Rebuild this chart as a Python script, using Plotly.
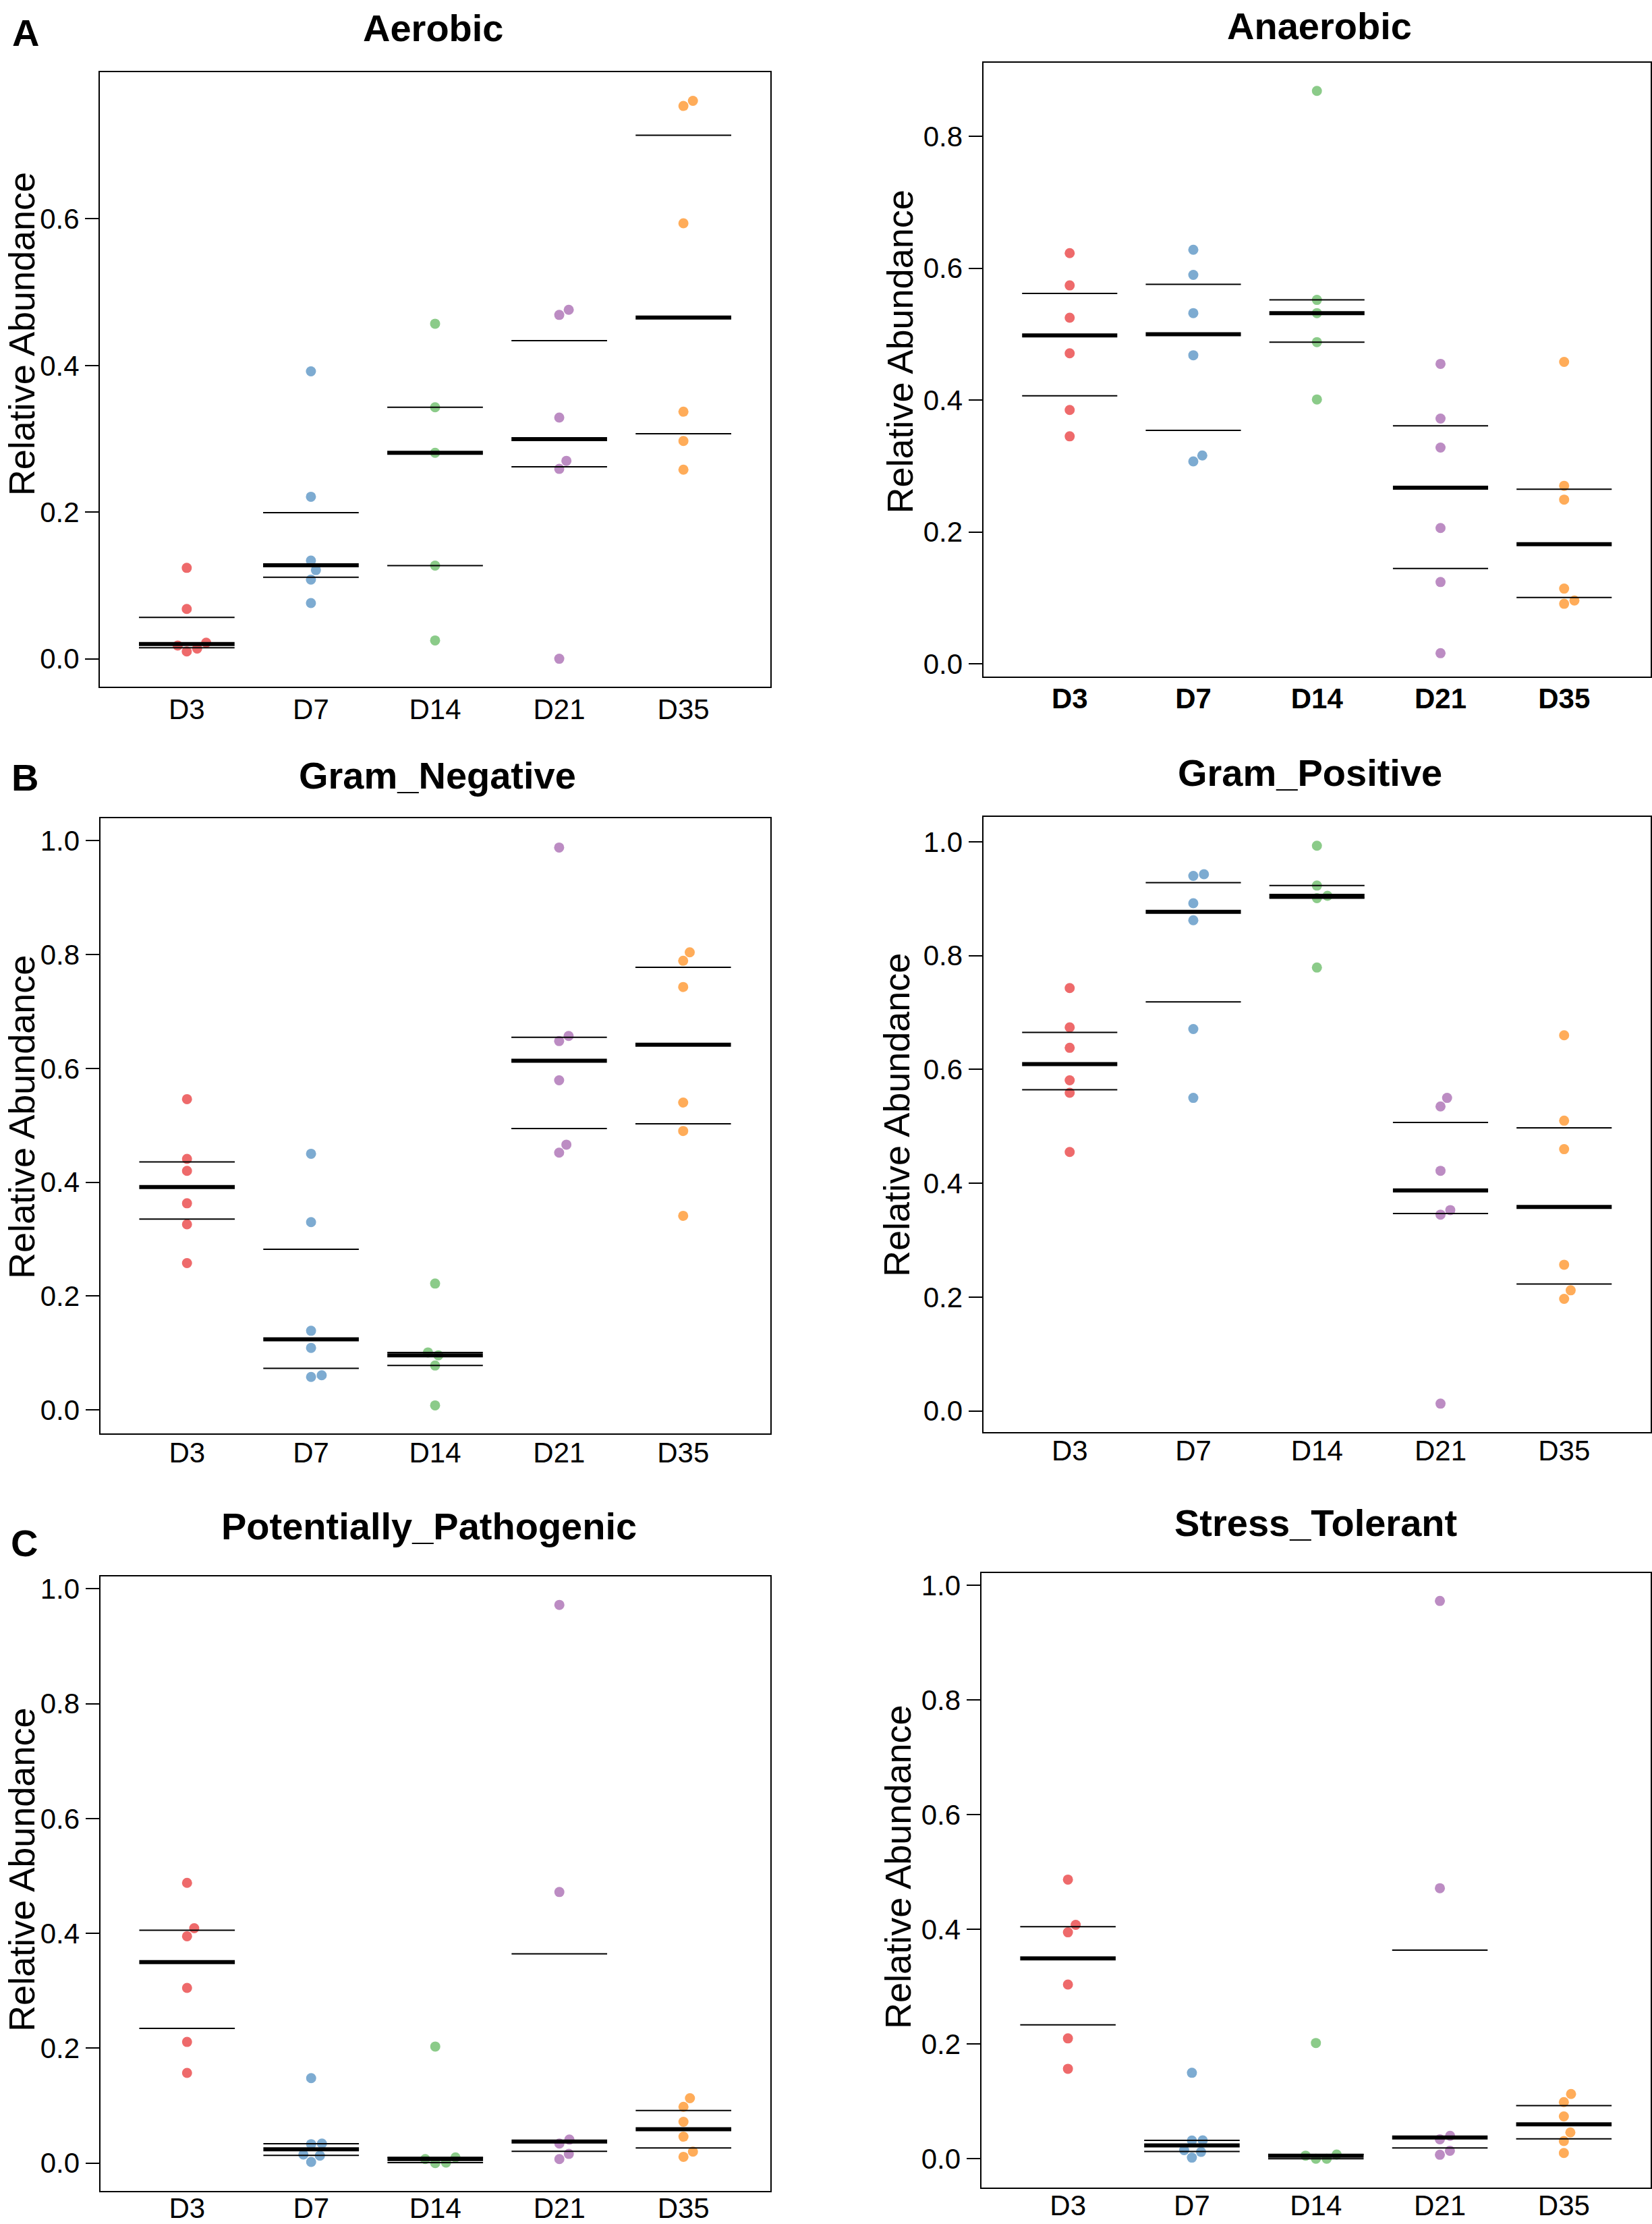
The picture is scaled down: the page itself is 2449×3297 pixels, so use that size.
import numpy as np
import plotly.graph_objects as go

# ---------------- data ----------------
categories = ["D3", "D7", "D14", "D21", "D35"]
group_colors = ["rgb(238,106,107)", "rgb(125,171,209)", "rgb(139,203,137)",
                "rgb(188,140,195)", "rgb(255,172,89)"]

aerobic = [
    [0.124, 0.068, 0.022, 0.018, 0.010, 0.014],
    [0.392, 0.221, 0.134, 0.121, 0.108, 0.076],
    [0.457, 0.343, 0.281, 0.127, 0.025],
    [0.476, 0.469, 0.329, 0.270, 0.259, 0.000],
    [0.761, 0.754, 0.594, 0.337, 0.297, 0.258],
]
anaerobic = [
    [0.623, 0.574, 0.525, 0.471, 0.385, 0.345],
    [0.628, 0.590, 0.532, 0.468, 0.316, 0.307],
    [0.869, 0.552, 0.532, 0.488, 0.401],
    [0.455, 0.372, 0.328, 0.206, 0.124, 0.016],
    [0.458, 0.270, 0.249, 0.114, 0.096, 0.091],
]
gram_negative = [
    [0.546, 0.441, 0.420, 0.363, 0.326, 0.258],
    [0.450, 0.330, 0.139, 0.109, 0.061, 0.058],
    [0.222, 0.101, 0.096, 0.078, 0.008],
    [0.988, 0.657, 0.648, 0.579, 0.466, 0.452],
    [0.804, 0.789, 0.743, 0.540, 0.490, 0.341],
]
gram_positive = [
    [0.743, 0.674, 0.638, 0.581, 0.559, 0.455],
    [0.943, 0.940, 0.892, 0.862, 0.671, 0.550],
    [0.993, 0.923, 0.905, 0.901, 0.779],
    [0.550, 0.535, 0.422, 0.353, 0.345, 0.013],
    [0.660, 0.510, 0.460, 0.257, 0.212, 0.197],
]
potentially_pathogenic = [
    [0.488, 0.409, 0.395, 0.305, 0.211, 0.157],
    [0.148, 0.034, 0.033, 0.015, 0.013, 0.002],
    [0.203, 0.010, 0.007, 0.001, 0.000],
    [0.972, 0.472, 0.041, 0.034, 0.016, 0.007],
    [0.113, 0.098, 0.072, 0.046, 0.020, 0.011],
]
stress_tolerant = [
    [0.487, 0.408, 0.395, 0.304, 0.210, 0.157],
    [0.150, 0.0322, 0.0318, 0.015, 0.012, 0.002],
    [0.202, 0.0074, 0.0055, 0.0002, 0.000],
    [0.973, 0.472, 0.040, 0.034, 0.014, 0.007],
    [0.113, 0.099, 0.074, 0.046, 0.031, 0.010],
]

yticks_aerobic = [0.0, 0.2, 0.4, 0.6]
yticks_anaerobic = [0.0, 0.2, 0.4, 0.6, 0.8]
yticks_unit = [0.0, 0.2, 0.4, 0.6, 0.8, 1.0]

titles = ["Aerobic", "Anaerobic", "Gram_Negative", "Gram_Positive",
          "Potentially_Pathogenic", "Stress_Tolerant"]
panel_letters = ["A", "", "B", "", "C", ""]
y_label = "Relative Abundance"

# ---------------- layout geometry (pixels) ----------------
W, H = 2449, 3297
FONT = "Liberation Sans, Arial, Helvetica, sans-serif"

panels = [
    dict(data=aerobic, yt=yticks_aerobic, box=(148, 1142, 102.5, 1016.6), yr=(-0.038, 0.800),
         title=(642, 43), ylab=(32, 492), letter=(38, 50), boldx=False, xs=-4),
    dict(data=anaerobic, yt=yticks_anaerobic, box=(1457.5, 2447, 88.6, 1002), yr=(-0.0198, 0.9115),
         title=(1955.6, 40), ylab=(1334.5, 519), letter=None, boldx=True, xs=-6),
    dict(data=gram_negative, yt=yticks_unit, box=(148.5, 1141.5, 1212.8, 2127.5), yr=(-0.041, 1.039),
         title=(648, 1155), ylab=(32, 1657), letter=(37, 1158), boldx=False, xs=-9),
    dict(data=gram_positive, yt=yticks_unit, box=(1457.5, 2447, 1210.7, 2126.1), yr=(-0.0374, 1.0433),
         title=(1942, 1151), ylab=(1329, 1654), letter=None, boldx=False, xs=-11),
    dict(data=potentially_pathogenic, yt=yticks_unit, box=(148.5, 1142, 2340.6, 3254.8), yr=(-0.0484, 1.0214),
         title=(636, 2272), ylab=(32, 2777), letter=(36, 2297), boldx=False, xs=-12),
    dict(data=stress_tolerant, yt=yticks_unit, box=(1454.5, 2447, 2335.7, 3249.9), yr=(-0.0503, 1.0214),
         title=(1950, 2267), ylab=(1331, 2773), letter=None, boldx=False, xs=-11),
]

XR = (0.3, 5.7)
HALF = 0.385       # half width of median / quartile segments (x units)
MARK = 15          # marker diameter px
SWARM_D = 16       # collision diameter px
ANN_SHIFT = 6      # annotation vertical correction px


def swarm_offsets(y_px, d):
    order = np.argsort(y_px, kind="stable")
    placed = []
    xs = np.zeros(len(y_px))
    for i in order:
        y = y_px[i]
        cands = [0.0]
        for px, py in placed:
            dy = abs(y - py)
            if dy < d:
                dx = np.sqrt(d * d - dy * dy)
                cands += [px + dx, px - dx]
        cands.sort(key=lambda c: (round(abs(c), 6), -c))
        for c in cands:
            if all((c - px) ** 2 + (y - py) ** 2 >= d * d - 1e-6 for px, py in placed):
                xs[i] = c
                break
        placed.append((xs[i], y))
    return xs


fig = go.Figure()
annotations = []
layout_axes = {}

for k, p in enumerate(panels, start=1):
    L, R, T, B = p["box"]
    y0, y1 = p["yr"]
    xs_name = "x" if k == 1 else f"x{k}"
    ys_name = "y" if k == 1 else f"y{k}"
    px_per_x = (R - L) / (XR[1] - XR[0])
    px_per_y = (B - T) / (y1 - y0)

    # points
    for g, vals in enumerate(p["data"]):
        v = np.array(vals, dtype=float)
        off = swarm_offsets(v * px_per_y, SWARM_D)
        fig.add_trace(go.Scatter(
            x=(g + 1) + off / px_per_x, y=v, mode="markers",
            marker=dict(size=MARK, color=group_colors[g], line=dict(width=0)),
            xaxis=xs_name, yaxis=ys_name, showlegend=False, hoverinfo="skip"))

    # median (thick) and quartiles (thin)
    tx, ty, mx, my = [], [], [], []
    for g, vals in enumerate(p["data"]):
        q1, med, q3 = np.percentile(vals, [25, 50, 75])
        c = g + 1
        for q in (q1, q3):
            tx += [c - HALF, c + HALF, None]
            ty += [q, q, None]
        mx += [c - HALF, c + HALF, None]
        my += [med, med, None]
    fig.add_trace(go.Scatter(x=tx, y=ty, mode="lines", line=dict(color="black", width=2),
                             xaxis=xs_name, yaxis=ys_name, showlegend=False, hoverinfo="skip"))
    fig.add_trace(go.Scatter(x=mx, y=my, mode="lines", line=dict(color="black", width=6),
                             xaxis=xs_name, yaxis=ys_name, showlegend=False, hoverinfo="skip"))

    xkey = "xaxis" if k == 1 else f"xaxis{k}"
    ykey = "yaxis" if k == 1 else f"yaxis{k}"
    layout_axes[xkey] = dict(
        domain=[L / W, R / W], range=list(XR), anchor=ys_name,
        tickmode="array", tickvals=list(range(1, len(categories) + 1)), ticktext=categories,
        ticks="", showgrid=False, zeroline=False,
        showline=True, mirror=True, linecolor="black", linewidth=2,
        tickfont=dict(family=FONT, size=42, color="black",
                      weight="bold" if p["boldx"] else "normal"),
        ticklabelstandoff=p["xs"], fixedrange=True)
    layout_axes[ykey] = dict(
        domain=[1 - B / H, 1 - T / H], range=[y0, y1], anchor=xs_name,
        tickmode="array", tickvals=p["yt"], tickformat=".1f",
        ticks="outside", ticklen=20, tickwidth=2, tickcolor="black",
        showgrid=False, zeroline=False,
        showline=True, mirror=True, linecolor="black", linewidth=2,
        tickfont=dict(family=FONT, size=42, color="black"), fixedrange=True)

    # title
    annotations.append(dict(text=f"<b>{titles[k-1]}</b>", x=p["title"][0] / W,
                            y=1 - (p["title"][1] - ANN_SHIFT) / H,
                            xref="paper", yref="paper", xanchor="center", yanchor="middle",
                            showarrow=False, font=dict(family=FONT, size=56, color="black")))
    # y label
    annotations.append(dict(text=y_label, x=p["ylab"][0] / W, y=1 - p["ylab"][1] / H,
                            xref="paper", yref="paper", xanchor="center", yanchor="middle",
                            textangle=-90, showarrow=False,
                            font=dict(family=FONT, size=54, color="black")))
    if p["letter"]:
        annotations.append(dict(text=f"<b>{panel_letters[k-1]}</b>", x=p["letter"][0] / W,
                                y=1 - (p["letter"][1] - ANN_SHIFT) / H, xref="paper", yref="paper",
                                xanchor="center", yanchor="middle", showarrow=False,
                                font=dict(family=FONT, size=56, color="black")))

fig.update_layout(
    width=W, height=H, autosize=False,
    margin=dict(l=0, r=0, t=0, b=0, pad=0),
    paper_bgcolor="white", plot_bgcolor="white",
    annotations=annotations, showlegend=False,
    **layout_axes)

fig.write_html("out.html", post_script="document.body.style.margin='0';document.body.style.overflow='hidden';",
               config={"displayModeBar": False})
